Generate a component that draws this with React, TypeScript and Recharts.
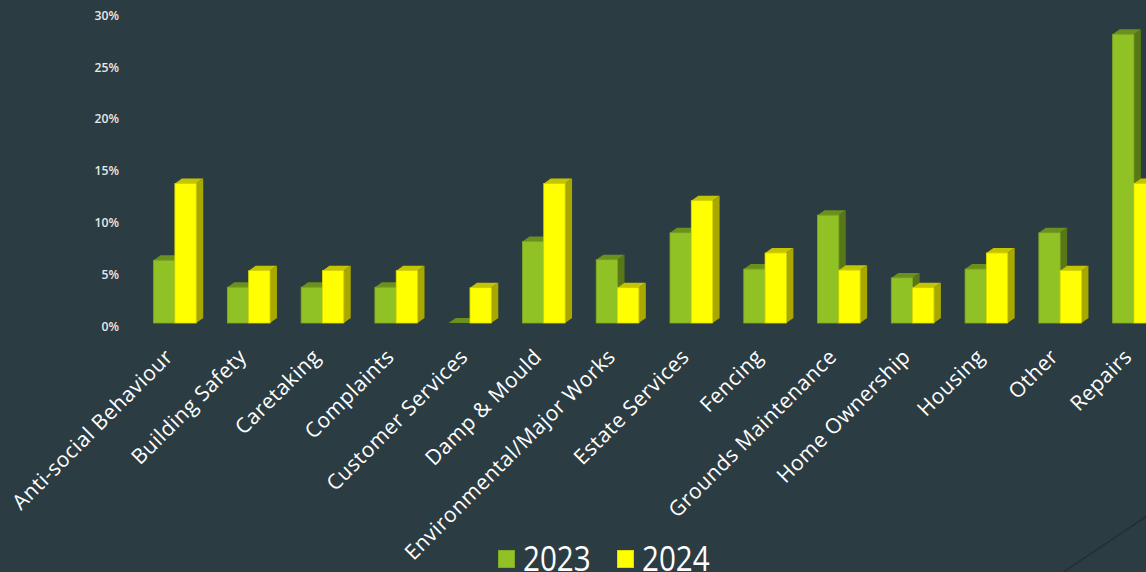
import React from 'react';
import { BarChart, Bar, XAxis, YAxis } from 'recharts';

const categories = [
    'Anti-social Behaviour', 'Building Safety', 'Caretaking', 'Complaints', 'Customer Services',
    'Damp & Mould', 'Environmental/Major Works', 'Estate Services', 'Fencing', 'Grounds Maintenance',
    'Home Ownership', 'Housing', 'Other', 'Repairs',
];
const values2023 = [6.05, 3.45, 3.45, 3.45, 0, 7.85, 6.1, 8.7, 5.2, 10.4, 4.35, 5.2, 8.7, 27.85];
const values2024 = [13.45, 5.05, 5.05, 5.05, 3.4, 13.45, 3.4, 11.8, 6.75, 5.1, 3.4, 6.75, 5.05, 13.45];
const yTicks = [0, 5, 10, 15, 20, 25, 30];

const data = categories.map((name, i) => ({ name, y2023: values2023[i], y2024: values2024[i] }));

const GREEN = { front: '#90C226', top: '#6B911C', side: '#587717', edge: '#7FAB22' };
const YELLOW = { front: '#FFFF00', top: '#C4C400', side: '#A8A800', edge: '#DCDC00' };
const legendItems = [
    { label: '2023', color: GREEN },
    { label: '2024', color: YELLOW },
];

const BG = '#2C3C43';
const DEPTH_X = 7;
const DEPTH_Y = 5;

// Fake 3D column: front face plus a top and a right-hand parallelogram
const Bar3D = ({ x, y, width, height, colors }: any) => {
    const right = x + width;
    const bottom = y + height;
    return (
        <g>
            <polygon
                points={`${x},${y} ${x + DEPTH_X},${y - DEPTH_Y} ${right + DEPTH_X},${y - DEPTH_Y} ${right},${y}`}
                fill={colors.top}
            />
            <polygon
                points={`${right},${y} ${right + DEPTH_X},${y - DEPTH_Y} ${right + DEPTH_X},${bottom - DEPTH_Y} ${right},${bottom}`}
                fill={colors.side}
            />
            {height > 0 && (
                <rect x={x} y={y} width={width} height={height} fill={colors.front} stroke={colors.edge} strokeWidth={0.8} />
            )}
        </g>
    );
};

const CategoryTick = ({ x, y, payload }: any) => (
    <text
        fill="#fff"
        fontSize={21}
        letterSpacing={0.5}
        fontFamily="'Open Sans', sans-serif"
        textAnchor="end"
        transform={`translate(${x - 0.4} ${y + 27}) rotate(-45)`}
    >
        {payload.value}
    </text>
);

const PercentTick = ({ x, y, payload }: any) => (
    <text
        x={x}
        y={y + 3.5}
        dy="0.355em"
        fill="#E8E8E8"
        fontSize={12.2}
        fontWeight={600}
        fontFamily="'Open Sans', sans-serif"
        textAnchor="end"
    >
        {payload.value}%
    </text>
);

const App = () => (
    <div style={{ position: 'absolute', left: 0, top: 0, width: 1146, height: 572, overflow: 'hidden', background: BG }}>
        <BarChart
            width={1180}
            height={572}
            data={data}
            margin={{ top: 12, right: 9.6, bottom: 0, left: 0 }}
            barSize={21.3}
            barGap={0}
        >
            <XAxis dataKey="name" interval={0} height={249} axisLine={false} tickLine={false} tick={<CategoryTick />} />
            <YAxis
                width={137.6}
                domain={[0, 30]}
                ticks={yTicks}
                axisLine={false}
                tickLine={false}
                tickSize={0}
                tickMargin={18.6}
                tick={<PercentTick />}
            />
            <Bar dataKey="y2023" isAnimationActive={false} shape={(p: any) => <Bar3D {...p} colors={GREEN} />} />
            <Bar dataKey="y2024" isAnimationActive={false} shape={(p: any) => <Bar3D {...p} colors={YELLOW} />} />
        </BarChart>

        {/* legend row */}
        <div style={{ position: 'absolute', left: 498, top: 544, display: 'flex', fontFamily: "'Open Sans', sans-serif", fontSize: 34, color: '#fff', lineHeight: '28px' }}>
            {legendItems.map((item) => (
                <div key={item.label} style={{ display: 'flex', alignItems: 'flex-start', width: 119 }}>
                    <span style={{ width: 17, height: 18, marginTop: 6, marginRight: 8, background: item.color.front, boxSizing: 'border-box', border: `1px solid ${item.color.edge}` }} />
                    <span style={{ display: 'inline-block', transform: 'scaleX(0.87)', transformOrigin: 'left' }}>{item.label}</span>
                </div>
            ))}
        </div>

        {/* slide background stroke in the corner */}
        <svg width={1146} height={572} style={{ position: 'absolute', left: 0, top: 0, pointerEvents: 'none' }}>
            <line x1={1062} y1={573} x2={1147} y2={516} stroke="#252E35" strokeWidth={1.5} />
        </svg>
    </div>
);

export default App;
